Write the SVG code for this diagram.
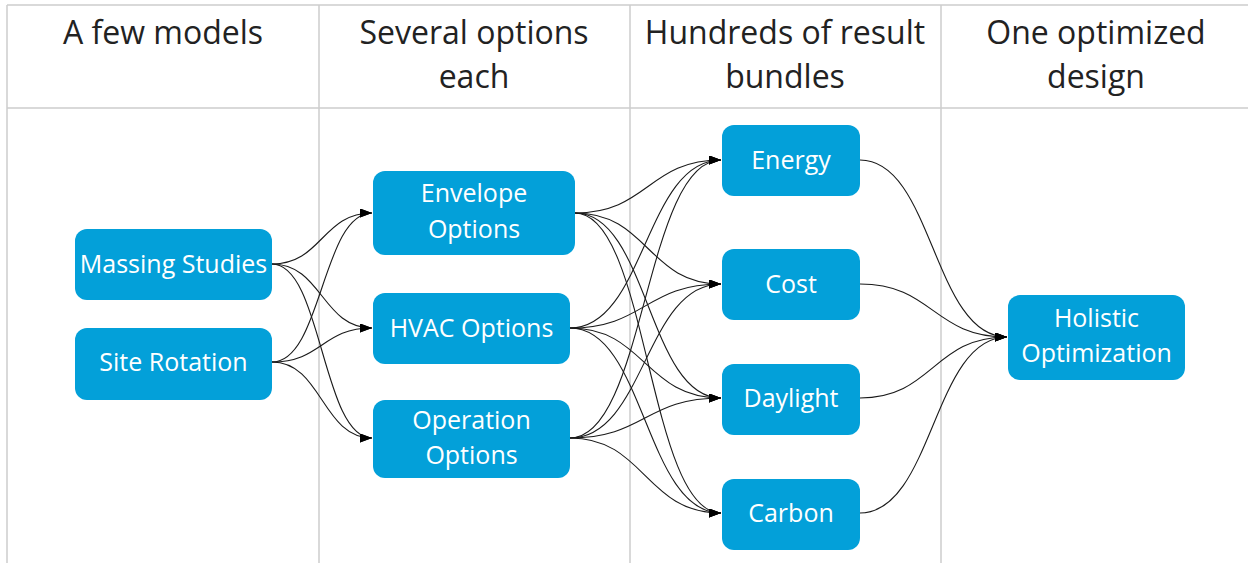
<svg xmlns="http://www.w3.org/2000/svg" width="1248" height="563" viewBox="0 0 1248 563">
  <style>
    .grid { stroke: #cccccc; stroke-width: 1.5; fill: none; }
    .head { font-family: "Open Sans", "Noto Sans", sans-serif; font-size: 32px; fill: #222222; text-anchor: middle; }
    .box { fill: #03a0d9; }
    .label { font-family: "Open Sans", "Noto Sans", sans-serif; font-size: 25px; fill: #ffffff; text-anchor: middle; }
    .edge { stroke: #1a1a1a; stroke-width: 1.1; fill: none; marker-end: url(#arrow); }
  </style>
  <defs>
    <marker id="arrow" markerUnits="userSpaceOnUse" markerWidth="13" markerHeight="9" refX="12" refY="4.5" orient="auto">
      <path d="M0,0 L12,4.5 L0,9 z" fill="#000000"/>
    </marker>
  </defs>
  <rect width="1248" height="563" fill="#ffffff"/>

  <!-- table grid -->
  <g id="grid">
    <line class="grid" x1="7" y1="5" x2="1248" y2="5"/>
    <line class="grid" x1="7" y1="108" x2="1248" y2="108"/>
    <line class="grid" x1="7" y1="5" x2="7" y2="563"/>
    <line class="grid" x1="319" y1="5" x2="319" y2="563"/>
    <line class="grid" x1="630" y1="5" x2="630" y2="563"/>
    <line class="grid" x1="941" y1="5" x2="941" y2="563"/>
  </g>

  <!-- column headings -->
  <g id="headings">
    <text class="head" x="163" y="44">A few models</text>
    <text class="head" x="474" y="44">Several options</text>
    <text class="head" x="474" y="88">each</text>
    <text class="head" x="785" y="44">Hundreds of result</text>
    <text class="head" x="785" y="88">bundles</text>
    <text class="head" x="1096" y="44">One optimized</text>
    <text class="head" x="1096" y="88">design</text>
  </g>

  <!-- connectors -->
  <g id="connectors">
    <path class="edge" d="M272,264 C322,264 322,213 372,213"/>
    <path class="edge" d="M272,264 C322,264 322,328 372,328"/>
    <path class="edge" d="M272,264 C322,264 322,438 372,438"/>
    <path class="edge" d="M272,362 C322,362 322,213 372,213"/>
    <path class="edge" d="M272,362 C322,362 322,328 372,328"/>
    <path class="edge" d="M272,362 C322,362 322,438 372,438"/>

    <path class="edge" d="M575,213 C648,213 648,160 721,160"/>
    <path class="edge" d="M575,213 C648,213 648,284 721,284"/>
    <path class="edge" d="M575,213 C648,213 648,398 721,398"/>
    <path class="edge" d="M575,213 C648,213 648,513 721,513"/>
    <path class="edge" d="M570,328 C645,328 645,160 721,160"/>
    <path class="edge" d="M570,328 C645,328 645,284 721,284"/>
    <path class="edge" d="M570,328 C645,328 645,398 721,398"/>
    <path class="edge" d="M570,328 C645,328 645,513 721,513"/>
    <path class="edge" d="M570,438 C645,438 645,160 721,160"/>
    <path class="edge" d="M570,438 C645,438 645,284 721,284"/>
    <path class="edge" d="M570,438 C645,438 645,398 721,398"/>
    <path class="edge" d="M570,438 C645,438 645,513 721,513"/>

    <path class="edge" d="M860,160 C933,160 933,337 1007,337"/>
    <path class="edge" d="M860,284 C933,284 933,337 1007,337"/>
    <path class="edge" d="M860,398 C933,398 933,337 1007,337"/>
    <path class="edge" d="M860,513 C933,513 933,337 1007,337"/>
  </g>

  <!-- nodes -->
  <g id="massing-studies">
    <rect class="box" x="75" y="229" width="197" height="71" rx="12"/>
    <text class="label" x="173.5" y="273">Massing Studies</text>
  </g>
  <g id="site-rotation">
    <rect class="box" x="75" y="328" width="197" height="72" rx="12"/>
    <text class="label" x="173.5" y="371">Site Rotation</text>
  </g>
  <g id="envelope-options">
    <rect class="box" x="373" y="171" width="202" height="84" rx="12"/>
    <text class="label" x="474" y="202">Envelope</text>
    <text class="label" x="474" y="238">Options</text>
  </g>
  <g id="hvac-options">
    <rect class="box" x="373" y="293" width="197" height="71" rx="12"/>
    <text class="label" x="471.5" y="337">HVAC Options</text>
  </g>
  <g id="operation-options">
    <rect class="box" x="373" y="400" width="197" height="78" rx="12"/>
    <text class="label" x="471.5" y="429">Operation</text>
    <text class="label" x="471.5" y="464">Options</text>
  </g>
  <g id="energy">
    <rect class="box" x="722" y="125" width="138" height="71" rx="12"/>
    <text class="label" x="791" y="169">Energy</text>
  </g>
  <g id="cost">
    <rect class="box" x="722" y="249" width="138" height="71" rx="12"/>
    <text class="label" x="791" y="293">Cost</text>
  </g>
  <g id="daylight">
    <rect class="box" x="722" y="364" width="138" height="71" rx="12"/>
    <text class="label" x="791" y="407">Daylight</text>
  </g>
  <g id="carbon">
    <rect class="box" x="722" y="479" width="138" height="71" rx="12"/>
    <text class="label" x="791" y="522">Carbon</text>
  </g>
  <g id="holistic-optimization">
    <rect class="box" x="1008" y="295" width="177" height="85" rx="12"/>
    <text class="label" x="1096.5" y="327">Holistic</text>
    <text class="label" x="1096.5" y="362">Optimization</text>
  </g>
</svg>
